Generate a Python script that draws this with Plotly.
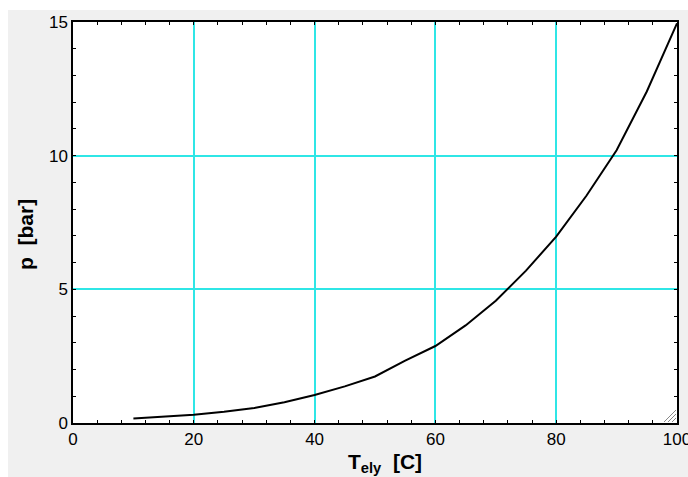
import plotly.graph_objects as go

# Data
T_ely = [10, 15, 20, 25, 30, 35, 40, 45, 50, 55, 60, 65, 70, 75, 80, 85, 90, 95, 100]
p_bar = [0.17, 0.23, 0.31, 0.42, 0.56, 0.78, 1.05, 1.37, 1.74, 2.33, 2.88, 3.65, 4.57, 5.7, 6.97, 8.5, 10.2, 12.4, 14.95]

x_ticks = [0, 20, 40, 60, 80, 100]
y_ticks = [0, 5, 10, 15]

FONT = "Liberation Sans, Arial, sans-serif"
GRID = "#2fe6e6"

fig = go.Figure()
fig.add_trace(go.Scatter(x=T_ely, y=p_bar, mode="lines",
                         line=dict(color="black", width=2), hoverinfo="skip"))

axis_common = dict(
    showline=True, linecolor="black", linewidth=1.5, mirror="ticks",
    ticks="inside", ticklen=3, tickwidth=1, tickcolor="black",
    showgrid=True, gridcolor=GRID, gridwidth=1.5,
    zeroline=False, ticklabeloverflow="allow", automargin=False,
    tickfont=dict(family=FONT, size=17, color="black"),
)

fig.update_xaxes(range=[0, 100], tickvals=x_ticks, ticktext=[str(v) for v in x_ticks],
                 minor=dict(dtick=4, tick0=0, ticks="inside", ticklen=3, tickcolor="black", showgrid=False),
                 **axis_common)
fig.update_yaxes(range=[0, 15], tickvals=y_ticks, ticktext=[str(v) for v in y_ticks],
                 minor=dict(dtick=1, tick0=0, ticks="inside", ticklen=3, tickcolor="black", showgrid=False),
                 **axis_common)

W, H = 688, 477
L, R, T, B = 73, 11, 22, 54
pw, ph = W - L - R, H - T - B

def px(xp):
    return (xp - L) / pw

def py(yp):
    return (H - B - yp) / ph

shapes = [
    # white border strips at top and left of the image
    dict(type="rect", xref="paper", yref="paper", x0=px(0), x1=px(W), y0=py(10), y1=py(0),
         fillcolor="white", line=dict(width=0), layer="below"),
    dict(type="rect", xref="paper", yref="paper", x0=px(0), x1=px(8), y0=py(H), y1=py(0),
         fillcolor="white", line=dict(width=0), layer="below"),
]
# resize grip at bottom-right corner of the plot
for k in (4, 8, 12):
    shapes.append(dict(type="line", xref="paper", yref="paper",
                       x0=px(676 - k), y0=py(422), x1=px(676), y1=py(422 - k),
                       line=dict(color="#888888", width=1)))

annotations = [
    dict(text="<b>T<sub>ely</sub>  [C]</b>", xref="paper", yref="paper",
         x=px(385), y=py(463), xanchor="center", yanchor="middle", showarrow=False,
         font=dict(family=FONT, size=21, color="black")),
    dict(text="<b>p  [bar]</b>", xref="paper", yref="paper", textangle=-90,
         x=px(25), y=py(235), xanchor="center", yanchor="middle", showarrow=False,
         font=dict(family=FONT, size=21, color="black")),
]

fig.update_layout(
    width=W, height=H,
    margin=dict(l=L, r=R, t=T, b=B),
    paper_bgcolor="#f0f0f0", plot_bgcolor="white",
    showlegend=False,
    shapes=shapes, annotations=annotations,
    font=dict(family=FONT, color="black"),
)

fig.write_html("out.html")
